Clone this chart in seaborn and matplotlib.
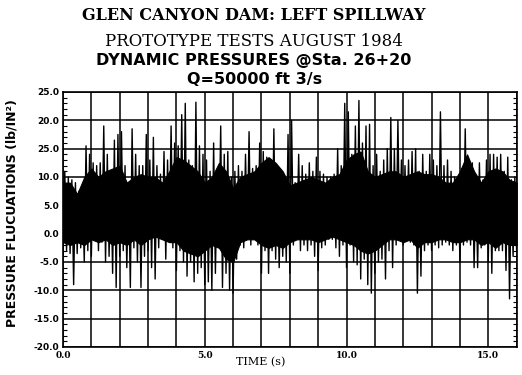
import numpy as np
import pandas as pd
import matplotlib
matplotlib.use('Agg')
import matplotlib.pyplot as plt
from matplotlib.ticker import MultipleLocator
import seaborn as sns

# title block
title_lines = ['GLEN CANYON DAM: LEFT SPILLWAY',
               'PROTOTYPE TESTS AUGUST 1984',
               'DYNAMIC PRESSURES @Sta. 26+20',
               'Q=50000 ft 3/s']

# pressure peaks, one pair every 0.125 s (lb/in^2)
dt = 0.125
upper = [11, 10, 9.5, 9, 7.5, 7, 15.5, 14, 12.5, 12,
         12.5, 19, 14, 11, 16.5, 17.5, 18, 12, 9, 18.5,
         14, 12, 12, 17.5, 13, 17, 12, 10.5, 14.5, 13,
         19, 16, 15.5, 21, 23, 13, 12, 23.2, 15.5, 14,
         13, 11, 16, 10, 19, 14, 14.5, 10, 11, 12,
         11, 14, 18, 11.5, 12, 16, 14.5, 13.5, 12.5, 18.5,
         11, 9, 9.5, 17.5, 20, 9, 14, 12, 10.5, 12.5,
         11, 13.5, 11, 10.5, 10, 10, 10.5, 15, 12, 23,
         21.5, 14, 19, 23.5, 16, 19, 19.3, 12, 14, 11,
         13, 15, 20.5, 15, 20, 13, 12, 13, 14.5, 15,
         11, 14, 11, 14, 13, 12, 21.5, 12, 13, 11,
         10, 9.5, 11.5, 18.5, 11, 12.5, 10, 12.5, 9.5, 13,
         14, 14, 13.5, 14, 11, 13.5, 9.5, 10, 9.5]
lower = [-4, -3, -3.5, -9, -3.5, -2.5, -5, -3, -4, -1,
         -3, -1.5, -5, -4, -7, -9.5, -4, -3, -6, -9.5,
         -2.5, -5, -9.5, -4, -3, -6, -8, -2.5, -1, -4.5,
         -1.5, -2.5, -6.5, -3, -5, -7.5, -5, -8.5, -7, -6,
         -9, -8.5, -10, -7, -1.5, -9.5, -7, -10, -10.5, -4.5,
         -2, -2.5, -1, -2, -1, -2, -7, -3, -7, -3,
         -4.5, -6, -4, -5, -7, -2, -1, -3, -2, -3,
         -2, -4, -6.5, -2.5, -2, -1, -1, -2.5, -4, -2,
         -6, -2, -5, -5.5, -8, -4.5, -9, -10.5, -7, -5,
         -4.5, -8, -3, -6, -2, -1, -2, -1, -1.5, -2,
         -10.5, -7.5, -3, -2, -3, -2, -2.5, -2, -1.5, -2,
         -3, -2, -5, -2, -1.5, -2, -6, -6, -2.5, -2,
         -5, -7, -3, -3, -3, -6.5, -11.5, -4, -3]

# edges of the solid dark band, every 0.25 s
dt_core = 0.25
core_top = [9, 9, 7, 10, 11.5, 10, 11, 11.5, 12, 9,
            10, 10.5, 10, 10, 9, 11, 13.5, 13, 12, 11,
            9, 10, 12.5, 11, 8, 10, 10.5, 11, 12.5, 13.5,
            12.5, 11, 8.5, 9, 9.5, 10, 9.5, 9, 10, 10.5,
            13, 14, 14.5, 11, 10, 10.5, 11, 11, 10, 10.5,
            11, 10.5, 10.5, 10, 9, 9, 11, 14, 11, 9,
            11, 11.5, 11, 9.5, 9]
core_bot = [-1.5, -2, -1.5, -2, -1, -1.5, -1, -2, -1.5, -2,
            -1, -2, -1, -0.5, -1, -1.5, -1.5, -3, -3.5, -4,
            -3, -2, -2.5, -4.5, -5, -1.5, -1, -1, -2, -2.5,
            -2, -2.5, -1.5, -1, -1, -1, -1.5, -1, -0.5, -1,
            -1.5, -2, -3, -3.5, -3, -2, -1, -1, -1.5, -1,
            -2.5, -1.5, -1.5, -1, -1, -1.5, -1.5, -1, -1, -2,
            -1.5, -2.5, -1.5, -2, -2]

ytick_vals = [-20, -15, -10, -5, 0, 5, 10, 15, 20, 25]
ytick_labels = ['-20.0', '-15.0', '-10.0', '-5.0', '0.0', '5.0', '10.0', '25.0', '20.0', '25.0']
xtick_vals = [0, 5, 10, 15]
xtick_labels = ['0.0', '5.0', '10.0', '15.0']

sns.set_theme(style='white')
plt.rcParams['font.family'] = ['DejaVu Sans']
plt.rcParams['text.color'] = 'black'
plt.rcParams['xtick.color'] = 'black'
plt.rcParams['ytick.color'] = 'black'

t = np.arange(len(upper)) * dt
trace = pd.DataFrame({'time': np.column_stack([t, t + dt / 2]).ravel(),
                      'pressure': np.column_stack([lower, upper]).ravel()})
t_core = np.arange(len(core_top)) * dt_core

fig = plt.figure(figsize=(5.22, 3.75), dpi=100)
ax = fig.add_axes([0.1207, 0.0747, 0.869, 0.68])

ax.fill_between(t_core, core_bot, core_top, color='black', lw=0.8, edgecolor='black')
sns.lineplot(data=trace, x='time', y='pressure', ax=ax, color='black',
             lw=1.0, sort=False, estimator=None)

ax.set_xlim(0, 16)
ax.set_ylim(-20, 25)
ax.set_xticks(xtick_vals)
ax.set_xticklabels(xtick_labels, fontweight='bold', fontsize=6.5, family='DejaVu Serif')
ax.set_yticks(ytick_vals)
ax.set_yticklabels(ytick_labels, fontweight='bold', fontsize=6.5)
ax.xaxis.set_minor_locator(MultipleLocator(1))
ax.yaxis.set_minor_locator(MultipleLocator(1))
ax.grid(which='both', axis='x', color='black', lw=1.1)
ax.grid(which='major', axis='y', color='black', lw=1.1)
ax.tick_params(axis='both', which='major', length=0, pad=3)
ax.tick_params(axis='x', which='minor', length=0)
ax.tick_params(axis='y', which='minor', left=True, right=True, direction='in',
               length=3, width=0.8, color='black')
for s in ax.spines.values():
    s.set_color('black')
    s.set_linewidth(1.2)

ax.set_xlabel('')
ax.set_ylabel('')
fig.text(261 / 522, 1 - 362 / 375, 'TIME (s)', family='DejaVu Serif',
         fontsize=8, ha='center', va='center')
fig.text(12 / 522, 1 - 213 / 375, 'PRESSURE FLUCUATIONS (lb/IN²)', rotation=90,
         fontweight='bold', fontsize=9, ha='center', va='center')

fig.text(254 / 522, 1 - 16 / 375, title_lines[0], family='DejaVu Serif', fontsize=11.5,
         fontweight='bold', ha='center', va='center')
fig.text(254 / 522, 1 - 41 / 375, title_lines[1], family='DejaVu Serif', fontsize=12,
         ha='center', va='center')
fig.text(254 / 522, 1 - 61 / 375, title_lines[2], fontsize=11.5, fontweight='bold',
         ha='center', va='center')
fig.text(255 / 522, 1 - 80 / 375, title_lines[3], fontsize=11.5, fontweight='bold',
         ha='center', va='center')

fig.savefig('out.png', dpi=100, facecolor='white')
